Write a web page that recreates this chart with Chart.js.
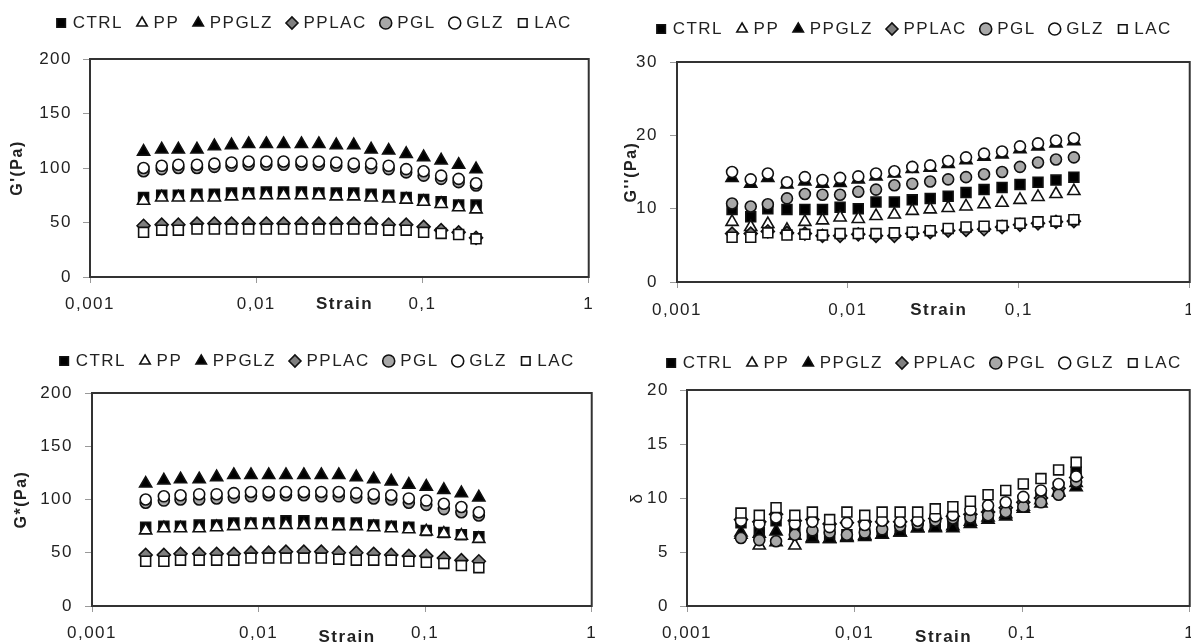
<!DOCTYPE html>
<html>
<head>
<meta charset="utf-8">
<script src="https://cdn.jsdelivr.net/npm/chart.js@4.4.0/dist/chart.umd.min.js"></script>
<style>
    html, body { margin: 0; padding: 0; background: #fff; overflow: hidden; width: 1191px; height: 644px; }
    .panel { position: absolute; }
</style>
</head>
<body>
<div class="panel" style="left:0px;top:0px;width:605px;height:322px"><canvas id="gpChart"></canvas></div>
<div class="panel" style="left:595px;top:0px;width:612px;height:322px"><canvas id="gppChart"></canvas></div>
<div class="panel" style="left:0px;top:322px;width:608px;height:322px"><canvas id="gsChart"></canvas></div>
<div class="panel" style="left:595px;top:322px;width:611px;height:322px"><canvas id="deltaChart"></canvas></div>
<script>
// x values (strain) shared by every panel
const strain = [0.0021, 0.0027, 0.0034, 0.0044, 0.0056, 0.0071, 0.009, 0.0115, 0.0146, 0.0187,
                0.0238, 0.0303, 0.0386, 0.0491, 0.0626, 0.0798, 0.1016, 0.1295, 0.165, 0.21];
const seriesNames = ['CTRL', 'PP', 'PPGLZ', 'PPLAC', 'PGL', 'GLZ', 'LAC'];
const xTickValues = [0.001, 0.01, 0.1, 1];
const xTickLabels = ['0,001', '0,01', '0,1', '1'];

// G' (Pa)
const gpCTRL  = [73, 75, 75, 76, 76, 77, 77, 78, 78, 78, 77, 77, 77, 76, 75, 73, 71, 69, 66, 66];
const gpPP    = [70, 73, 73, 73, 73, 74, 75, 75, 75, 75, 75, 74, 74, 73, 72, 71, 69, 67, 64, 62];
const gpPPGLZ = [115, 117, 117, 117, 120, 121, 122, 122, 122, 122, 122, 121, 121, 117, 116, 113, 110, 107, 103, 99];
const gpPPLAC = [47, 48, 48, 49, 49, 49, 49, 49, 49, 49, 49, 49, 49, 49, 48, 48, 46, 43, 41, 36];
const gpPGL   = [97, 99, 100, 100, 101, 102, 103, 103, 103, 103, 103, 102, 101, 100, 99, 96, 93, 90, 87, 84];
const gpGLZ   = [100, 102, 103, 103, 104, 105, 106, 106, 106, 106, 106, 105, 104, 104, 102, 99, 97, 93, 90, 86];
const gpLAC   = [41, 43, 43, 44, 44, 44, 44, 44, 44, 44, 44, 44, 44, 44, 43, 43, 41, 40, 39, 35];

// G'' (Pa)
const gppCTRL  = [9.9, 8.9, 10.0, 9.9, 9.9, 9.9, 10.2, 10.0, 10.9, 10.9, 11.2, 11.4, 11.7, 12.2, 12.6, 12.9, 13.3, 13.6, 13.9, 14.3];
const gppPP    = [8.2, 7.5, 7.9, 7.1, 8.2, 8.4, 8.8, 8.6, 9.0, 9.2, 9.7, 9.9, 10.1, 10.3, 10.6, 10.8, 11.2, 11.6, 12.0, 12.4];
const gppPPGLZ = [14.2, 13.4, 14.2, 13.3, 13.7, 13.4, 13.5, 14.0, 14.4, 14.8, 15.4, 15.6, 16.1, 16.6, 17.1, 17.4, 18.1, 18.5, 18.9, 19.2];
const gppPPLAC = [6.6, 6.6, 6.9, 6.7, 6.6, 6.3, 6.3, 6.5, 6.3, 6.3, 6.6, 6.8, 7.0, 7.1, 7.2, 7.5, 7.8, 8.0, 8.2, 8.3];
const gppPGL   = [10.7, 10.3, 10.6, 11.4, 12.0, 11.9, 11.9, 12.3, 12.6, 13.2, 13.4, 13.7, 14.0, 14.3, 14.7, 15.0, 15.7, 16.3, 16.7, 17.0];
const gppGLZ   = [15.0, 14.0, 14.8, 13.6, 14.3, 13.9, 14.2, 14.4, 14.8, 15.1, 15.7, 15.9, 16.5, 17.0, 17.5, 17.8, 18.5, 18.9, 19.3, 19.6];
const gppLAC   = [6.1, 6.1, 6.7, 6.4, 6.5, 6.4, 6.6, 6.6, 6.6, 6.7, 6.8, 7.0, 7.3, 7.5, 7.6, 7.7, 8.0, 8.2, 8.3, 8.5];

// G* (Pa)
const gsCTRL  = [74, 75, 75, 76, 76, 78, 78, 78, 80, 80, 78, 78, 78, 76, 75, 74, 71, 69, 67, 65];
const gsPP    = [71, 73, 73, 73, 74, 75, 76, 76, 76, 76, 76, 75, 75, 74, 73, 72, 70, 68, 66, 63];
const gsPPGLZ = [115, 118, 119, 119, 121, 123, 123, 123, 123, 123, 123, 123, 121, 119, 117, 114, 112, 109, 106, 102];
const gsPPLAC = [48, 48, 49, 49, 49, 49, 50, 50, 51, 51, 51, 50, 50, 49, 48, 47, 47, 45, 43, 42];
const gsPGL   = [97, 99, 100, 100, 101, 102, 103, 104, 104, 104, 103, 103, 102, 101, 100, 97, 95, 91, 88, 85];
const gsGLZ   = [100, 103, 104, 105, 105, 106, 107, 107, 107, 107, 107, 107, 106, 105, 104, 101, 99, 96, 93, 88];
const gsLAC   = [42, 42, 43, 43, 43, 43, 45, 45, 45, 45, 45, 44, 43, 43, 43, 42, 41, 40, 38, 36];

// delta
const dCTRL  = [7.7, 6.8, 7.9, 7.2, 6.5, 6.6, 6.6, 6.7, 6.8, 7.0, 7.4, 7.5, 7.7, 8.1, 8.5, 8.8, 9.6, 10.3, 11.0, 12.4];
const dPP    = [6.6, 5.6, 5.9, 5.6, 6.2, 6.2, 6.3, 6.5, 6.6, 6.8, 7.2, 7.3, 7.4, 7.8, 8.2, 8.5, 9.2, 9.8, 10.6, 11.4];
const dPPGLZ = [6.8, 6.7, 6.9, 6.5, 6.3, 6.2, 6.4, 6.4, 6.6, 6.8, 7.2, 7.2, 7.2, 7.6, 8.0, 8.3, 9.0, 9.5, 10.5, 11.0];
const dPPLAC = [8.0, 7.8, 8.5, 7.9, 8.0, 7.6, 7.7, 7.8, 7.8, 7.8, 7.9, 8.1, 8.3, 8.5, 8.7, 9.1, 9.6, 10.0, 10.9, 11.9];
const dPGL   = [6.3, 6.1, 6.0, 6.6, 7.0, 6.8, 6.6, 6.8, 7.1, 7.4, 7.6, 7.9, 8.1, 8.2, 8.4, 8.7, 9.2, 9.6, 10.3, 11.5];
const dGLZ   = [7.9, 7.6, 8.2, 7.6, 7.8, 7.3, 7.7, 7.5, 7.9, 7.8, 7.9, 8.3, 8.4, 8.9, 9.3, 9.6, 10.1, 10.7, 11.3, 12.0];
const dLAC   = [8.6, 8.4, 9.1, 8.4, 8.7, 8.0, 8.7, 8.4, 8.7, 8.7, 8.7, 9.0, 9.2, 9.7, 10.3, 10.7, 11.3, 11.8, 12.6, 13.3];

// marker look of each series, same order as seriesNames
const markerStyles = [
    { pointStyle: 'rect',     fill: '#000000', radius: 7 },
    { pointStyle: 'triangle', fill: '#ffffff', radius: 7 },
    { pointStyle: 'triangle', fill: '#000000', radius: 7 },
    { pointStyle: 'rectRot',  fill: '#7f7f7f', radius: 6.5 },
    { pointStyle: 'circle',   fill: '#a8a8a8', radius: 5.5 },
    { pointStyle: 'circle',   fill: '#ffffff', radius: 5.5 },
    { pointStyle: 'rect',     fill: '#ffffff', radius: 7 }
];

Chart.defaults.font.family = '"Liberation Sans", Arial, sans-serif';
Chart.defaults.color = '#222';

// layout helpers: frame, legend placement, "Strain" label, letter spacing
function panelDeco(lay) {
    return {
        id: 'panelDeco',
        beforeInit(chart) {
            const legend = chart.legend;
            const fit = legend.fit;
            legend.fit = function() {
                fit.call(this);
                this.height = lay.plotTop;
            };
        },
        beforeUpdate(chart) { chart.ctx.letterSpacing = '1.5px'; },
        beforeDraw(chart) { chart.ctx.letterSpacing = '1.5px'; },
        afterLayout(chart) {
            const lg = chart.legend;
            const dx = lay.legendX - (lg.left + lg.right) / 2;
            const dy = lay.legendY - (lg.top + 16 + 17 / 2);
            lg.left += dx; lg.right += dx;
            lg.top += dy; lg.bottom += dy;
        },
        beforeDatasetsDraw(chart) {
            const a = chart.chartArea;
            const ctx = chart.ctx;
            ctx.save();
            ctx.strokeStyle = '#333';
            ctx.lineWidth = 2;
            ctx.strokeRect(a.left, a.top, a.right - a.left, a.bottom - a.top);
            ctx.restore();
        },
        afterDraw(chart) {
            const ctx = chart.ctx;
            ctx.save();
            ctx.font = 'bold 17px "Liberation Sans", Arial, sans-serif';
            ctx.fillStyle = '#222';
            ctx.textAlign = 'center';
            ctx.textBaseline = 'middle';
            ctx.fillText('Strain', chart.scales.x.getPixelForValue(0.034), lay.strainY);
            ctx.restore();
        }
    };
}

function makePanel(canvasId, values, yMax, yStep, yTitle, yTitleFont, lay) {
    const datasets = values.map((vals, i) => ({
        label: seriesNames[i],
        data: strain.map((s, j) => ({ x: s, y: vals[j] })),
        pointStyle: markerStyles[i].pointStyle,
        pointRadius: markerStyles[i].radius,
        backgroundColor: markerStyles[i].fill,
        borderColor: '#111',
        borderWidth: 1.6,
        showLine: false,
        order: values.length - 1 - i
    }));

    return new Chart(document.getElementById(canvasId), {
        type: 'scatter',
        data: { datasets: datasets },
        options: {
            responsive: true,
            maintainAspectRatio: false,
            animation: false,
            events: [],
            layout: { padding: { left: 0, right: 6, top: 0, bottom: 0 } },
            plugins: {
                tooltip: { enabled: false },
                legend: {
                    position: 'top',
                    labels: {
                        usePointStyle: true,
                        boxWidth: 6,
                        boxHeight: 8.5,
                        padding: 16,
                        color: '#222',
                        font: { size: 17 },
                        sort: (a, b) => a.datasetIndex - b.datasetIndex
                    }
                }
            },
            scales: {
                x: {
                    type: 'logarithmic',
                    min: 0.001,
                    max: 1,
                    afterBuildTicks: (scale) => { scale.ticks = xTickValues.map(v => ({ value: v })); },
                    afterFit: (scale) => { scale.height = lay.xAxisHeight; },
                    ticks: {
                        autoSkip: false,
                        maxRotation: 0,
                        padding: lay.xTickPad,
                        color: '#222',
                        font: { size: 17 },
                        callback: (v) => xTickLabels[xTickValues.indexOf(v)]
                    },
                    grid: { drawOnChartArea: false, drawTicks: true, tickLength: 6, color: '#999' },
                    border: { display: false }
                },
                y: {
                    min: 0,
                    max: yMax,
                    afterFit: (scale) => { scale.width = lay.plotLeft; },
                    ticks: { stepSize: yStep, padding: lay.yTickPad, color: '#222', font: { size: 17 } },
                    grid: { drawOnChartArea: false, drawTicks: true, tickLength: 7, color: '#999' },
                    border: { display: false },
                    title: {
                        display: true,
                        text: yTitle,
                        color: '#222',
                        font: yTitleFont,
                        padding: { top: lay.yTitlePad, bottom: 0 }
                    }
                }
            }
        },
        plugins: [panelDeco(lay)]
    });
}

const boldTitle = { size: 16, weight: 'bold' };

makePanel('gpChart', [gpCTRL, gpPP, gpPPGLZ, gpPPLAC, gpPGL, gpGLZ, gpLAC], 200, 50, "G'(Pa)", boldTitle,
    { plotLeft: 90, plotTop: 59, xAxisHeight: 45, xTickPad: 10.8, yTickPad: 11, yTitlePad: 8.4,
      legendX: 315, legendY: 23, strainY: 304 });

makePanel('gppChart', [gppCTRL, gppPP, gppPPGLZ, gppPPLAC, gppPGL, gppGLZ, gppLAC], 30, 10, "G''(Pa)", boldTitle,
    { plotLeft: 82, plotTop: 62, xAxisHeight: 40, xTickPad: 11.8, yTickPad: 12, yTitlePad: 27.4,
      legendX: 320, legendY: 29, strainY: 310 });

makePanel('gsChart', [gsCTRL, gsPP, gsPPGLZ, gsPPLAC, gsPGL, gsGLZ, gsLAC], 200, 50, 'G*(Pa)', boldTitle,
    { plotLeft: 92, plotTop: 71, xAxisHeight: 38, xTickPad: 10.8, yTickPad: 12, yTitlePad: 12.4,
      legendX: 318, legendY: 39, strainY: 315 });

makePanel('deltaChart', [dCTRL, dPP, dPPGLZ, dPPLAC, dPGL, dGLZ, dLAC], 20, 5, 'δ', { size: 17, weight: 'normal' },
    { plotLeft: 92, plotTop: 68, xAxisHeight: 38, xTickPad: 10.8, yTickPad: 11, yTitlePad: 31.8,
      legendX: 330, legendY: 41, strainY: 315 });
</script>
</body>
</html>
